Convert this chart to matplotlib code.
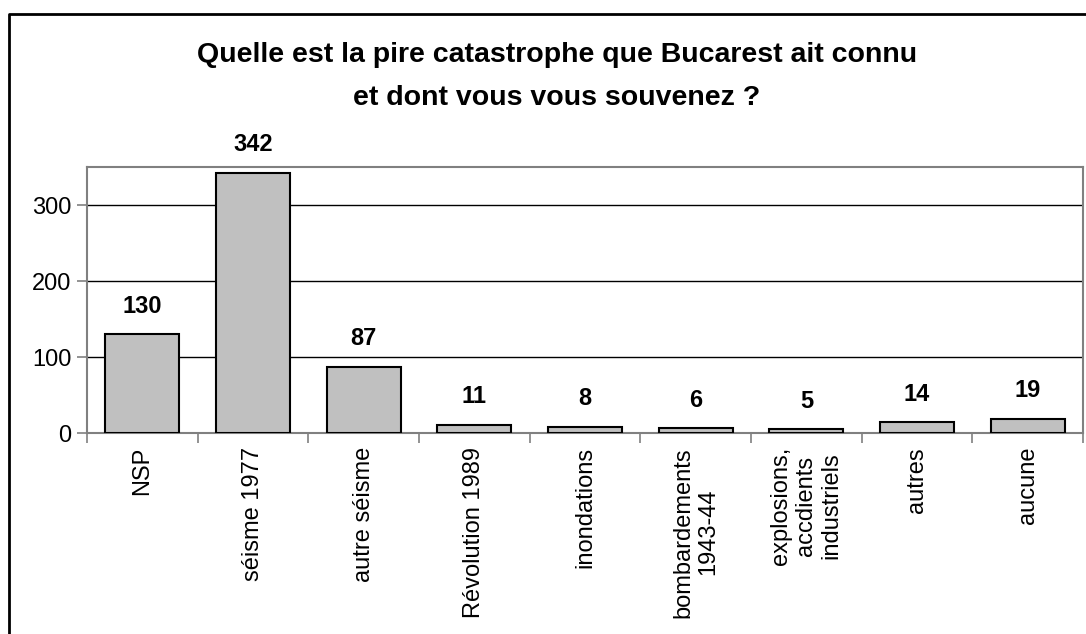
import matplotlib.pyplot as plt
from matplotlib.lines import Line2D

plt.rcParams["font.family"] = ["Liberation Sans", "DejaVu Sans"]

categories = [
    "NSP",
    "séisme 1977",
    "autre séisme",
    "Révolution 1989",
    "inondations",
    "bombardements\n1943-44",
    "explosions,\naccdients\nindustriels",
    "autres",
    "aucune",
]
values = [130, 342, 87, 11, 8, 6, 5, 14, 19]
yticks = [0, 100, 200, 300]

title = "Quelle est la pire catastrophe que Bucarest ait connu\net dont vous vous souvenez ?"

W, H = 1086, 634
fig = plt.figure(figsize=(W / 100, H / 100), dpi=100)
ax = fig.add_axes([87 / W, 1 - 433 / H, (1083 - 87) / W, (433 - 167) / H])

x = list(range(len(categories)))
bars = ax.bar(x, values, width=0.667, color="#c0c0c0", edgecolor="black",
              linewidth=1.5, zorder=3)

for rect, v in zip(bars, values):
    ax.annotate(str(v), (rect.get_x() + rect.get_width() / 2, v),
                xytext=(0, 12), textcoords="offset points",
                ha="center", va="bottom", fontsize=17, fontweight="bold")

ax.set_xlim(-0.5, len(categories) - 0.5)
ax.set_ylim(0, 350)
ax.set_yticks(yticks)
ax.set_yticklabels([str(t) for t in yticks], fontsize=17)
ax.yaxis.grid(True, color="black", linewidth=1.0, zorder=0)
ax.set_axisbelow(True)

# category labels between boundary ticks
ax.set_xticks(x)
ax.set_xticklabels(categories, rotation=90, fontsize=17, ha="center",
                   va="top", multialignment="center")
ax.tick_params(axis="x", length=0, pad=10)
ax.set_xticks([i - 0.5 for i in range(len(categories) + 1)], minor=True)
ax.tick_params(axis="x", which="minor", length=7, color="#808080", width=1.2)
ax.tick_params(axis="y", length=7, color="#808080", width=1.2, pad=4)

for side in ["left", "right", "top", "bottom"]:
    ax.spines[side].set_color("#808080")
    ax.spines[side].set_linewidth(1.5)

fig.text(557 / W, 1 - 42 / H, title, ha="center", va="top", fontsize=20.5,
         fontweight="bold", linespacing=1.83)

# frame around the chart area
fig.add_artist(Line2D([9 / W, 9 / W, 1.01], [-0.01, 1 - 14 / H, 1 - 14 / H],
                      transform=fig.transFigure, color="black", linewidth=2))

fig.savefig("out.png", dpi=100)
